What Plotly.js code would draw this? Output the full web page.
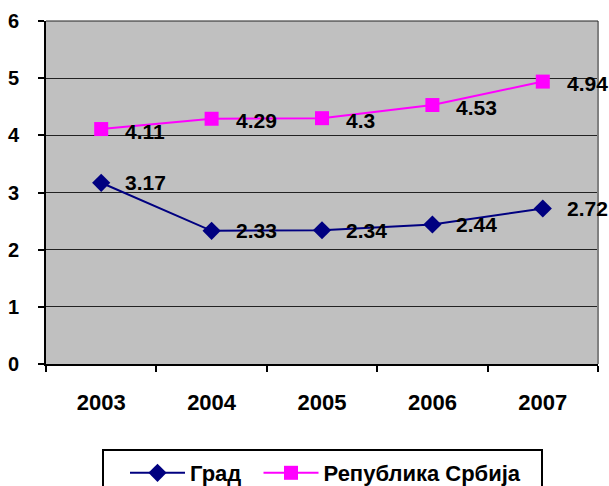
<!DOCTYPE html>
<html><head><meta charset="utf-8">
<script src="https://cdn.plot.ly/plotly-3.0.1.min.js"></script>
<style>body{margin:0;padding:0;background:#fff}#chart{width:609px;height:486px}</style>
</head><body><div id="chart"></div>
<script>
var years = ['2003','2004','2005','2006','2007'];
var gradValues = [3.17, 2.33, 2.34, 2.44, 2.72];
var srbijaValues = [4.11, 4.29, 4.3, 4.53, 4.94];
var gradLabels = ['3.17','2.33','2.34','2.44','2.72'];
var srbijaLabels = ['4.11','4.29','4.3','4.53','4.94'];
var seriesNames = ['Град\u00a0\u00a0', 'Република Србија'];

var fontFam = '"Liberation Sans", Arial, sans-serif';
var traces = [
  {x: years, y: gradValues, name: seriesNames[0], type: 'scatter', mode: 'lines+markers',
   line: {color: '#000080', width: 2}, marker: {symbol: 'diamond', size: 14, color: '#000080'}},
  {x: years, y: srbijaValues, name: seriesNames[1], type: 'scatter', mode: 'lines+markers',
   line: {color: '#FF00FF', width: 2}, marker: {symbol: 'square', size: 14, color: '#FF00FF'}}
];
var ann = [];
function addLabels(vals, labels, ys) {
  for (var i = 0; i < vals.length; i++) {
    ann.push({x: i, y: vals[i], text: labels[i], showarrow: false, xanchor: 'left',
      xshift: 22, yshift: ys, font: {family: fontFam, size: 21, color: '#000', weight: 'bold'}});
  }
}
addLabels(gradValues, gradLabels, 0);
addLabels(srbijaValues, srbijaLabels, -2);

var H = 343;
var layout = {
  width: 609, height: 486,
  margin: {l: 46, r: 11, t: 21, b: 122},
  paper_bgcolor: '#ffffff', plot_bgcolor: '#C0C0C0',
  showlegend: true,
  font: {family: fontFam, size: 19, color: '#000', weight: 'bold'},
  xaxis: {type: 'category', tickson: 'boundaries', ticks: 'outside', ticklen: 6, tickwidth: 2,
    tickcolor: '#000', showline: true, linecolor: '#000', linewidth: 2, showgrid: false,
    tickfont: {family: fontFam, size: 22, weight: 'bold'}, ticklabelstandoff: 18,
    automargin: false, range: [-0.5, 4.5]},
  yaxis: {range: [0, 6], dtick: 1, ticks: 'outside', ticklen: 6, tickwidth: 2, tickcolor: '#000',
    showline: true, linecolor: '#000', linewidth: 2, gridcolor: '#222', gridwidth: 1,
    zeroline: false, automargin: false,
    tickfont: {family: fontFam, size: 20, weight: 'bold'}, ticklabelstandoff: 15},
  shapes: [
    {type: 'line', xref: 'paper', yref: 'paper', x0: 1, x1: 1, y0: 0, y1: 1, line: {color: '#808080', width: 2}},
    {type: 'line', xref: 'paper', yref: 'paper', x0: 0, x1: 1, y0: 1, y1: 1, line: {color: '#222', width: 1}},
    {type: 'rect', xref: 'paper', yref: 'paper', x0: (103-46)/552, x1: (542-46)/552,
     y0: (364-500)/H, y1: (364-450)/H, line: {color: '#000', width: 2}, fillcolor: 'rgba(0,0,0,0)'}
  ],
  legend: {orientation: 'h', xref: 'container', yref: 'container', x: 125/609, xanchor: 'left',
    y: (486-452)/486, yanchor: 'top', borderwidth: 0, bgcolor: 'rgba(0,0,0,0)', itemwidth: 55,
    font: {family: fontFam, size: 22, weight: 'bold'}},
  annotations: ann
};
Plotly.newPlot('chart', traces, layout, {displayModeBar: false, staticPlot: true});
</script></body></html>
